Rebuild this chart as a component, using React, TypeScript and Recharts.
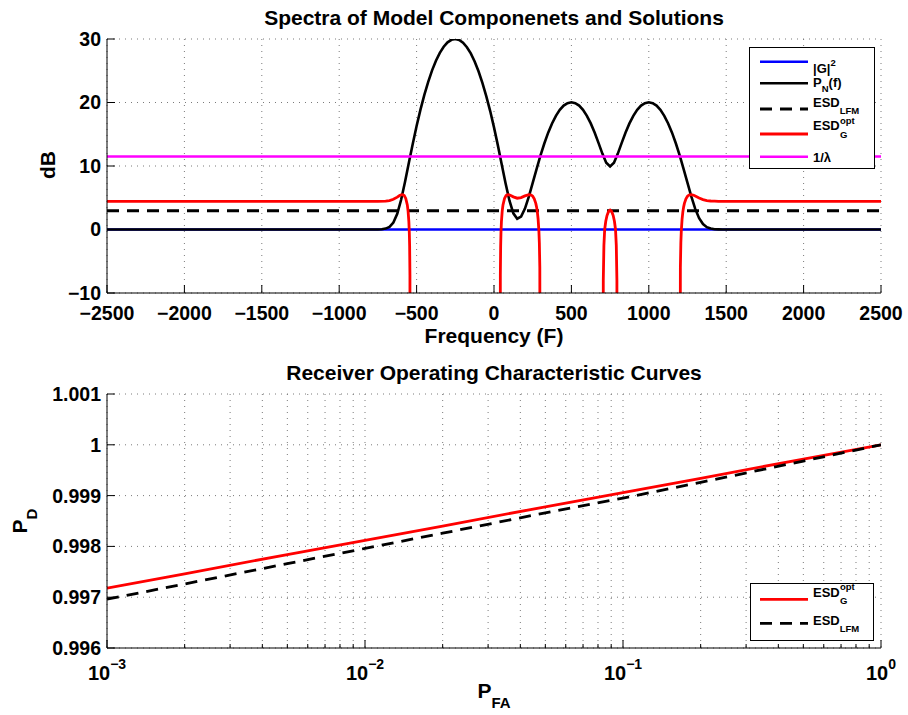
import React from 'react';
import { LineChart, Line, XAxis, YAxis, CartesianGrid } from 'recharts';

const FONT = "'Liberation Sans', Arial, Helvetica, sans-serif";

// ---------------- Top panel data ----------------
const FREQ_TICKS = [-2500, -2000, -1500, -1000, -500, 0, 500, 1000, 1500, 2000, 2500];
const DB_TICKS = [-10, 0, 10, 20, 30];

const PN_FREQ = [
  -2500, -775, -750, -725, -700, -675, -650, -625, -600, -575, -550, -525, -500, -475, -450, -425, -400,
  -375, -350, -325, -300, -275, -250, -225, -200, -175, -150, -125, -100, -75, -50, -25, 0, 25, 50, 75,
  100, 125, 150, 175, 200, 225, 250, 275, 300, 325, 350, 375, 400, 425, 450, 475, 500, 525, 550, 575,
  600, 625, 650, 675, 700, 725, 750, 775, 800, 825, 850, 875, 900, 925, 950, 975, 1000, 1025, 1050,
  1075, 1100, 1125, 1150, 1175, 1200, 1225, 1250, 1275, 1300, 1325, 1350, 1375, 1400, 1425, 1450, 1475,
  2500,
];
const PN_DB = [
  0, 0, 0.01, 0.04, 0.14, 0.41, 1.09, 2.47, 4.68, 7.47, 10.5, 13.48, 16.29, 18.88, 21.21, 23.26, 25.06,
  26.58, 27.82, 28.78, 29.47, 29.87, 30.0, 29.85, 29.42, 28.71, 27.73, 26.46, 24.92, 23.1, 21.0, 18.69,
  16.08, 13.25, 10.25, 7.24, 4.53, 2.55, 1.7, 2.04, 3.3, 5.18, 7.33, 9.52, 11.63, 13.54, 15.25, 16.7,
  17.9, 18.84, 19.51, 19.9, 20.04, 19.9, 19.51, 18.84, 17.9, 16.71, 15.28, 13.64, 11.95, 10.51, 9.92,
  10.51, 11.95, 13.64, 15.28, 16.71, 17.9, 18.84, 19.51, 19.9, 20.04, 19.9, 19.51, 18.84, 17.9, 16.7,
  15.25, 13.54, 11.63, 9.52, 7.33, 5.17, 3.24, 1.79, 0.86, 0.37, 0.15, 0.05, 0.02, 0, 0,
];

const ESD_OPT_FREQ = [
  -2500, -750, -700, -675, -650, -625, -610, -600, -590, -580, -570, -560, -555, -550, -547, -545, -543,
  -542, 40, 41, 43, 45, 48, 53, 58, 68, 78, 88, 98, 108, 125, 150, 175, 200, 225, 240, 250, 260, 270,
  275, 280, 285, 290, 293, 296, 298, 705, 706, 710, 715, 722, 730, 740, 750, 760, 770, 778, 785, 790,
  794, 795, 1202, 1204, 1207, 1210, 1215, 1220, 1225, 1230, 1240, 1250, 1260, 1275, 1290, 1300, 1325,
  1350, 1375, 1400, 1425, 1450, 2500,
];
const ESD_OPT_DB = [
  4.42, 4.42, 4.46, 4.55, 4.75, 5.1, 5.35, 5.46, 5.48, 5.35, 4.9, 3.87, 2.9, 1.24, -0.55, -2.6, -7.2,
  -40, -40, -7.2, -2.6, -0.55, 1.24, 2.9, 3.87, 4.9, 5.35, 5.48, 5.46, 5.36, 5.14, 4.93, 5.02, 5.29,
  5.5, 5.43, 5.24, 4.84, 4.12, 3.56, 2.78, 1.64, -0.21, -2.1, -6.0, -40, -40, -8, -2.5, 0, 1.3, 2.2,
  2.85, 3.05, 2.85, 2.2, 1.3, 0, -2.5, -8, -40, -40, -6.0, -2.1, -0.21, 1.64, 2.78, 3.56, 4.12, 4.84,
  5.24, 5.43, 5.5, 5.39, 5.28, 4.96, 4.7, 4.56, 4.49, 4.46, 4.43, 4.42,
];

const FLAT_FREQ = [-2500, 2500];
const G2_DB = 0;
const ESD_LFM_DB = 2.95;
const INV_LAMBDA_DB = 11.5;

// ---------------- Bottom panel data ----------------
const PFA_TICKS = [
  0.001, 0.002, 0.003, 0.004, 0.005, 0.006, 0.007, 0.008, 0.009,
  0.01, 0.02, 0.03, 0.04, 0.05, 0.06, 0.07, 0.08, 0.09,
  0.1, 0.2, 0.3, 0.4, 0.5, 0.6, 0.7, 0.8, 0.9, 1,
];
const PFA_MAJOR = [0.001, 0.01, 0.1, 1];
const PFA_EXPONENTS = ['\u22123', '\u22122', '\u22121', '0'];
const PD_TICKS = [0.996, 0.997, 0.998, 0.999, 1, 1.001];
const PD_LABELS = ['0.996', '0.997', '0.998', '0.999', '1', '1.001'];

const PFA = [0.001, 0.002, 0.005, 0.01, 0.02, 0.05, 0.1, 0.2, 0.5, 1];
const PD_OPT = [0.99718, 0.99746, 0.99784, 0.99812, 0.9984, 0.99878, 0.99906, 0.99934, 0.99972, 1.0];
const PD_LFM = [0.99696, 0.99726, 0.99766, 0.99796, 0.99826, 0.99866, 0.99895, 0.99926, 0.99968, 1.0];

// ---------------- derived tables ----------------
const pnData = PN_FREQ.map((f, i) => ({ f, v: PN_DB[i] }));
const esdOptData = ESD_OPT_FREQ.map((f, i) => ({ f, v: ESD_OPT_DB[i] }));
const g2Data = FLAT_FREQ.map((f) => ({ f, v: G2_DB }));
const lfmData = FLAT_FREQ.map((f) => ({ f, v: ESD_LFM_DB }));
const lamData = FLAT_FREQ.map((f) => ({ f, v: INV_LAMBDA_DB }));
const rocOpt = PFA.map((p, i) => ({ p, v: PD_OPT[i] }));
const rocLfm = PFA.map((p, i) => ({ p, v: PD_LFM[i] }));

const TFS = 19.5;
const LFS = 21;
const GRID = '#7a7a7a';
const GRID_DASH = '1 5';
const DASH = '12 8';

const minus = (v: number) => (v < 0 ? '\u2212' + Math.abs(v) : String(v));

const FreqBottomTick = ({ x, y, payload }: any) => (
  <g>
    <line x1={x} x2={x} y1={y} y2={y - 8} stroke="#000" />
    <text x={x} y={y + 27} textAnchor="middle" fontFamily={FONT} fontWeight="bold" fontSize={TFS} fill="#000">
      {minus(payload.value)}
    </text>
  </g>
);
const TopInTick = ({ x, y }: any) => <line x1={x} x2={x} y1={y} y2={y + 8} stroke="#000" />;
const RightInTick = ({ x, y }: any) => <line x1={x} x2={x - 8} y1={y} y2={y} stroke="#000" />;
const DbLeftTick = ({ x, y, payload }: any) => (
  <g>
    <line x1={x} x2={x + 8} y1={y} y2={y} stroke="#000" />
    <text x={x - 6} y={y + 6.5} textAnchor="end" fontFamily={FONT} fontWeight="bold" fontSize={TFS} fill="#000">
      {minus(payload.value)}
    </text>
  </g>
);
const PdLeftTick = ({ x, y, payload }: any) => {
  const i = PD_TICKS.findIndex((t) => Math.abs(t - payload.value) < 1e-9);
  return (
    <g>
      <line x1={x} x2={x + 8} y1={y} y2={y} stroke="#000" />
      <text x={x - 6} y={y + 7} textAnchor="end" fontFamily={FONT} fontWeight="bold" fontSize={TFS} fill="#000">
        {i >= 0 ? PD_LABELS[i] : ''}
      </text>
    </g>
  );
};
const majorIndex = (v: number) => PFA_MAJOR.findIndex((m) => Math.abs(m - v) / m < 1e-6);
const LogBottomTick = ({ x, y, payload }: any) => {
  const i = majorIndex(payload.value);
  return (
    <g>
      <line x1={x} x2={x} y1={y} y2={y - (i >= 0 ? 8 : 4)} stroke="#000" />
      {i >= 0 && (
        <text x={x} y={y + 32} textAnchor="middle" fontFamily={FONT} fontWeight="bold" fontSize={20} fill="#000">
          10
          <tspan dy={-11} fontSize={14}>
            {PFA_EXPONENTS[i]}
          </tspan>
        </text>
      )}
    </g>
  );
};
const LogTopTick = ({ x, y, payload }: any) => {
  const i = majorIndex(payload.value);
  return <line x1={x} x2={x} y1={y} y2={y + (i >= 0 ? 8 : 4)} stroke="#000" />;
};

const axisLine = { stroke: '#000', strokeWidth: 1 };

function TopChart() {
  return (
    <LineChart width={908} height={360} margin={{ top: 39, right: 27, bottom: 37, left: 47 }}>
      <CartesianGrid stroke={GRID} strokeDasharray={GRID_DASH} />
      <XAxis
        dataKey="f"
        type="number"
        domain={[-2500, 2500]}
        ticks={FREQ_TICKS}
        interval={0}
        allowDataOverflow
        height={30}
        tickSize={0}
        tickMargin={0}
        tickLine={false}
        axisLine={axisLine}
        tick={<FreqBottomTick />}
      />
      <XAxis
        xAxisId="top"
        orientation="top"
        dataKey="f"
        type="number"
        domain={[-2500, 2500]}
        ticks={FREQ_TICKS}
        interval={0}
        allowDataOverflow
        height={0}
        tickSize={0}
        tickMargin={0}
        tickLine={false}
        axisLine={axisLine}
        tick={<TopInTick />}
      />
      <YAxis
        type="number"
        domain={[-10, 30]}
        ticks={DB_TICKS}
        interval={0}
        allowDataOverflow
        width={60}
        tickSize={0}
        tickMargin={0}
        tickLine={false}
        axisLine={axisLine}
        tick={<DbLeftTick />}
      />
      <YAxis
        yAxisId="right"
        orientation="right"
        type="number"
        domain={[-10, 30]}
        ticks={DB_TICKS}
        interval={0}
        allowDataOverflow
        width={0}
        tickSize={0}
        tickMargin={0}
        tickLine={false}
        axisLine={axisLine}
        tick={<RightInTick />}
      />
      <Line data={g2Data} dataKey="v" stroke="#0000ff" strokeWidth={2.6} dot={false} isAnimationActive={false} type="linear" />
      <Line data={pnData} dataKey="v" stroke="#000000" strokeWidth={2.6} dot={false} isAnimationActive={false} type="linear" />
      <Line data={lfmData} dataKey="v" stroke="#000000" strokeWidth={2.8} strokeDasharray={DASH} dot={false} isAnimationActive={false} type="linear" />
      <Line data={esdOptData} dataKey="v" stroke="#ff0000" strokeWidth={2.8} dot={false} isAnimationActive={false} type="linear" />
      <Line data={lamData} dataKey="v" stroke="#ff00ff" strokeWidth={2.6} dot={false} isAnimationActive={false} type="linear" />
    </LineChart>
  );
}

function BottomChart() {
  return (
    <LineChart width={908} height={355} margin={{ top: 34, right: 27, bottom: 37, left: 47 }}>
      <CartesianGrid stroke={GRID} strokeDasharray={GRID_DASH} />
      <XAxis
        dataKey="p"
        type="number"
        scale="log"
        domain={[0.001, 1]}
        ticks={PFA_TICKS}
        interval={0}
        allowDataOverflow
        height={30}
        tickSize={0}
        tickMargin={0}
        tickLine={false}
        axisLine={axisLine}
        tick={<LogBottomTick />}
      />
      <XAxis
        xAxisId="top"
        orientation="top"
        dataKey="p"
        type="number"
        scale="log"
        domain={[0.001, 1]}
        ticks={PFA_TICKS}
        interval={0}
        allowDataOverflow
        height={0}
        tickSize={0}
        tickMargin={0}
        tickLine={false}
        axisLine={axisLine}
        tick={<LogTopTick />}
      />
      <YAxis
        type="number"
        domain={[0.996, 1.001]}
        ticks={PD_TICKS}
        interval={0}
        allowDataOverflow
        width={60}
        tickSize={0}
        tickMargin={0}
        tickLine={false}
        axisLine={axisLine}
        tick={<PdLeftTick />}
      />
      <YAxis
        yAxisId="right"
        orientation="right"
        type="number"
        domain={[0.996, 1.001]}
        ticks={PD_TICKS}
        interval={0}
        allowDataOverflow
        width={0}
        tickSize={0}
        tickMargin={0}
        tickLine={false}
        axisLine={axisLine}
        tick={<RightInTick />}
      />
      <Line data={rocOpt} dataKey="v" stroke="#ff0000" strokeWidth={2.8} dot={false} isAnimationActive={false} type="linear" />
      <Line data={rocLfm} dataKey="v" stroke="#000000" strokeWidth={2.8} strokeDasharray={DASH} dot={false} isAnimationActive={false} type="linear" />
    </LineChart>
  );
}

const T = { fontFamily: FONT, fontWeight: 'bold' as const, fill: '#000' };

function Overlay() {
  return (
    <svg width={908} height={715} style={{ position: 'absolute', left: 0, top: 0, pointerEvents: 'none' }}>
      {/* titles and axis labels */}
      <text x={494} y={25} textAnchor="middle" fontSize={LFS} {...T}>
        Spectra of Model Componenets and Solutions
      </text>
      <text x={494} y={343} textAnchor="middle" fontSize={LFS} {...T}>
        Frequency (F)
      </text>
      <text transform="translate(55,165) rotate(-90)" textAnchor="middle" fontSize={LFS} {...T}>
        dB
      </text>
      <text x={494} y={380} textAnchor="middle" fontSize={LFS} {...T}>
        Receiver Operating Characteristic Curves
      </text>
      <text transform="translate(27,521) rotate(-90)" textAnchor="middle" fontSize={LFS} {...T}>
        P<tspan dy={10} fontSize={15}>D</tspan>
      </text>
      <text x={494} y={698} textAnchor="middle" fontSize={LFS} {...T}>
        P<tspan dy={10} fontSize={15}>FA</tspan>
      </text>

      {/* top legend */}
      <rect x={749.5} y={47.5} width={125} height={121} fill="#fff" stroke="#000" strokeWidth={1} />
      <line x1={760} x2={808} y1={61.7} y2={61.7} stroke="#0000ff" strokeWidth={2.6} />
      <line x1={760} x2={808} y1={83.3} y2={83.3} stroke="#000" strokeWidth={2.6} />
      <line x1={760} x2={808} y1={109} y2={109} stroke="#000" strokeWidth={2.8} strokeDasharray={DASH} />
      <line x1={760} x2={808} y1={134} y2={134} stroke="#ff0000" strokeWidth={2.8} />
      <line x1={760} x2={808} y1={156.7} y2={156.7} stroke="#ff00ff" strokeWidth={2.6} />
      <text x={813} y={72.5} fontSize={13} {...T}>
        |G|<tspan dy={-7} fontSize={9.5}>2</tspan>
      </text>
      <text x={813} y={87} fontSize={13} {...T}>
        P<tspan dy={5} fontSize={9.5}>N</tspan>
        <tspan dy={-5}>(f)</tspan>
      </text>
      <text x={813} y={106.5} fontSize={13} {...T}>
        ESD<tspan dy={7} fontSize={9.5}>LFM</tspan>
      </text>
      <text x={813} y={130} fontSize={13} {...T}>
        ESD
      </text>
      <text x={840} y={124} fontSize={9.5} {...T}>
        opt
      </text>
      <text x={840} y={137.5} fontSize={9.5} {...T}>
        G
      </text>
      <text x={813} y={162} fontSize={13} {...T}>
        1/λ
      </text>

      {/* bottom legend */}
      <rect x={750.5} y={583.5} width={123} height={57} fill="#fff" stroke="#000" strokeWidth={1} />
      <line x1={760} x2={808} y1={599.3} y2={599.3} stroke="#ff0000" strokeWidth={2.8} />
      <line x1={760} x2={808} y1={623.3} y2={623.3} stroke="#000" strokeWidth={2.8} strokeDasharray={DASH} />
      <text x={813} y={597} fontSize={13} {...T}>
        ESD
      </text>
      <text x={840} y={590} fontSize={9.5} {...T}>
        opt
      </text>
      <text x={840} y={604} fontSize={9.5} {...T}>
        G
      </text>
      <text x={813} y={625} fontSize={13} {...T}>
        ESD<tspan dy={7} fontSize={9.5}>LFM</tspan>
      </text>
    </svg>
  );
}

export default function App() {
  return (
    <div style={{ position: 'absolute', left: 0, top: 0, width: 908, height: 715, background: '#fff', overflow: 'hidden' }}>
      <div style={{ position: 'absolute', left: 0, top: 0 }}>
        <TopChart />
      </div>
      <div style={{ position: 'absolute', left: 0, top: 360 }}>
        <BottomChart />
      </div>
      <Overlay />
    </div>
  );
}
